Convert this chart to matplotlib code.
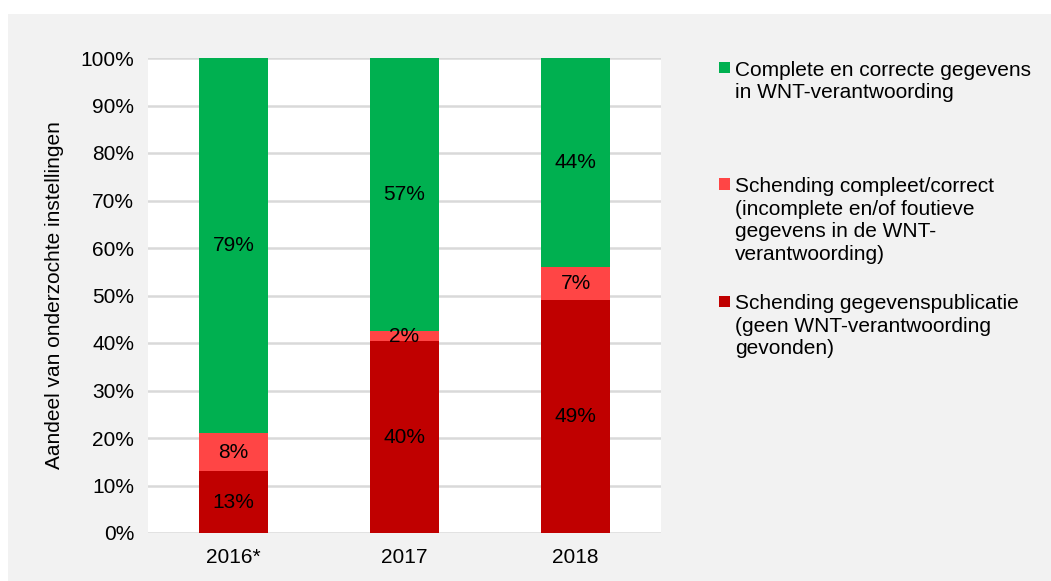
import numpy as np
import matplotlib.pyplot as plt
from matplotlib.patches import Rectangle

plt.rcParams['font.family'] = ['Liberation Sans', 'DejaVu Sans']

years = ['2016*', '2017', '2018']
publicatie = [13, 40, 49]     # Schending gegevenspublicatie
compleet = [8, 2, 7]          # Schending compleet/correct
correct = [79, 57, 44]        # Complete en correcte gegevens

labels = ['Complete en correcte gegevens\nin WNT-verantwoording',
          'Schending compleet/correct\n(incomplete en/of foutieve\ngegevens in de WNT-\nverantwoording)',
          'Schending gegevenspublicatie\n(geen WNT-verantwoording\ngevonden)']
colors = ['#00b050', '#ff4545', '#c00000']

FS = 15
W, H = 1051, 581
fig = plt.figure(figsize=(W / 100, H / 100), dpi=100)
fig.patch.set_facecolor('white')
fig.patches.append(Rectangle((8 / W, 0), 1, (H - 14) / H, transform=fig.transFigure,
                             facecolor='#f2f2f2', edgecolor='none', zorder=-10))

ax = fig.add_axes([148 / W, 1 - 533 / H, (661 - 148) / W, (533 - 58) / H])
ax.set_facecolor('white')

# normalise to 100% stacked like the original
tot = np.array(publicatie) + np.array(compleet) + np.array(correct)
series = [np.array(publicatie) / tot * 100,
          np.array(compleet) / tot * 100,
          np.array(correct) / tot * 100]
raw = [publicatie, compleet, correct]
cols = [colors[2], colors[1], colors[0]]

x = np.arange(len(years))
bottom = np.zeros(len(years))
for vals, r, c in zip(series, raw, cols):
    ax.bar(x, vals, 0.4, bottom=bottom, color=c, zorder=3)
    for xi, b, v, rv in zip(x, bottom, vals, r):
        ax.text(xi, b + v / 2, f'{rv}%', ha='center', va='center', fontsize=FS, zorder=4)
    bottom += vals

ax.set_xlim(-0.5, 2.5)
ax.set_ylim(0, 100)
ax.set_yticks(np.arange(0, 101, 10))
ax.set_yticklabels([f'{v}%' for v in range(0, 101, 10)], fontsize=FS)
ax.set_xticks(x)
ax.set_xticklabels(years, fontsize=FS)
ax.tick_params(length=0, pad=10)
ax.tick_params(axis='x', pad=11)
ax.grid(axis='y', color='#d9d9d9', linewidth=1.8, zorder=0)
for s in ax.spines.values():
    s.set_visible(False)
ax.set_ylabel('Aandeel van onderzochte instellingen', fontsize=FS, labelpad=12)

# legend, placed like the original
leg_y = [67.5, 184, 301]
for lab, c, yc in zip(labels, colors, leg_y):
    fig.patches.append(Rectangle((719 / W, 1 - (yc + 5.5) / H), 11 / W, 11 / H,
                                 transform=fig.transFigure, facecolor=c, edgecolor='none'))
    fig.text(735 / W, 1 - (yc - 7) / H, lab, fontsize=FS, va='top', ha='left',
             linespacing=1.25)

fig.savefig('out.png', dpi=100)
